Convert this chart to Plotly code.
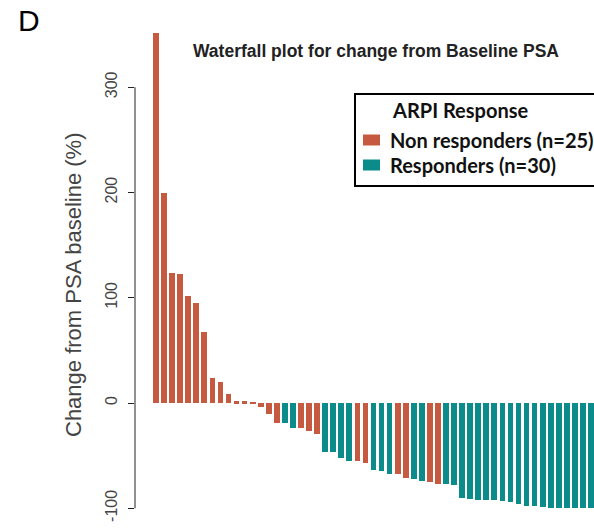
import plotly.graph_objects as go

# Percent change from baseline PSA, one bar per patient, sorted high to low
change_pct = [
    352, 200, 124, 123, 102, 95, 67, 24, 20, 8.5,
    1.5, 1.5, 0.5, -4, -10, -19, -19, -24, -24, -26.5,
    -29.5, -47, -47, -52, -55, -55, -57, -63.5, -65, -67,
    -67, -71, -72, -74, -75.5, -76.5, -76.5, -77.5, -90, -91,
    -92, -92.5, -92.5, -93.5, -94.5, -96, -98, -98, -99, -100,
    -100, -100, -100, -100, -100,
]
# ARPI response per patient: "N" = non responder, "R" = responder
response = list(
    "NNNNNNNNNNNNNNNN"  # 1-16
    "RR"                # 17-18
    "NNN"               # 19-21
    "RRRR"              # 22-25
    "NN"                # 26-27
    "RRR"               # 28-30
    "NN"                # 31-32
    "RR"                # 33-34
    "NN"                # 35-36
    "RRRRRRRRRRRRRRRRRRR"  # 37-55
)
patients = list(range(1, len(change_pct) + 1))

groups = [
    ("N", "Non responders (n=25)", "#C65A41"),
    ("R", "Responders (n=30)", "#0C8B8B"),
]
legend_title = "ARPI Response"
y_ticks = [-100, 0, 100, 200, 300]

W, H = 594, 531
ML, MT = 135, 20
PW, PH = W - ML, H - MT


def px(x):
    """pixel column -> paper x"""
    return (x - ML) / PW


def py(y):
    """pixel row -> paper y"""
    return 1 - (y - MT) / PH


fig = go.Figure()
for code, label, color in groups:
    xs = [p for p, r in zip(patients, response) if r == code]
    ys = [v for v, r in zip(change_pct, response) if r == code]
    fig.add_trace(go.Bar(
        x=xs, y=ys, name=label, width=0.71, showlegend=False,
        marker=dict(color=color, line=dict(width=0)),
    ))

legend_font = dict(family="Lato", size=20, color="#111", weight="bold")

# boxed key in the upper right, running off the right edge
shapes = [
    dict(type="line", xref="paper", yref="y",
         x0=0, x1=0, y0=y_ticks[0], y1=y_ticks[-1],
         line=dict(color="#222", width=1)),
    dict(type="rect", xref="paper", yref="paper",
         x0=px(355), x1=px(640), y0=py(94), y1=py(186),
         line=dict(color="black", width=2), fillcolor="white", layer="above"),
]
annotations = [
    dict(text=legend_title, xref="paper", yref="paper",
         x=px(390), y=py(110), xanchor="left", yanchor="middle",
         showarrow=False, font=legend_font),
]
for i, (code, label, color) in enumerate(groups):
    yc = 140 + 25 * i
    shapes.append(dict(
        type="rect", xref="paper", yref="paper",
        x0=px(363), x1=px(380), y0=py(yc - 5.5), y1=py(yc + 5.5),
        line=dict(width=0), fillcolor=color, layer="above",
    ))
    annotations.append(dict(
        text=label, xref="paper", yref="paper",
        x=px(388), y=py(yc), xanchor="left", yanchor="middle",
        showarrow=False, font=legend_font,
    ))

annotations += [
    dict(text="<b>Waterfall plot for change from Baseline PSA</b>",
         xref="paper", yref="paper", x=px(376), y=py(51),
         xanchor="center", yanchor="middle", showarrow=False,
         font=dict(family="Liberation Sans", size=17.5, color="#222")),
    dict(text="D", xref="paper", yref="paper",
         x=px(16), y=py(21), xanchor="left", yanchor="middle", showarrow=False,
         font=dict(family="Liberation Sans", size=30, color="black")),
    dict(text="Change from PSA baseline (%)", xref="paper", yref="paper",
         x=px(73), y=py(285), xanchor="center", yanchor="middle",
         textangle=-90, showarrow=False,
         font=dict(family="Liberation Sans", size=22, color="#444")),
]

fig.update_layout(
    width=W, height=H,
    margin=dict(l=ML, r=0, t=MT, b=0, autoexpand=False),
    paper_bgcolor="white", plot_bgcolor="white",
    showlegend=False,
    bargap=0,
    xaxis=dict(range=[-1.607, 55.37], visible=False, fixedrange=True),
    yaxis=dict(
        range=[-121.6, 363.9],
        tickvals=y_ticks, ticktext=[str(t) for t in y_ticks],
        tickangle=-90,
        ticks="outside", ticklen=6, tickcolor="#222", tickwidth=1,
        showline=False, showgrid=False, zeroline=False,
        tickfont=dict(family="Liberation Sans", size=16, color="#444"),
        ticklabelstandoff=5,
    ),
    shapes=shapes,
    annotations=annotations,
)

fig.write_html("out.html")
